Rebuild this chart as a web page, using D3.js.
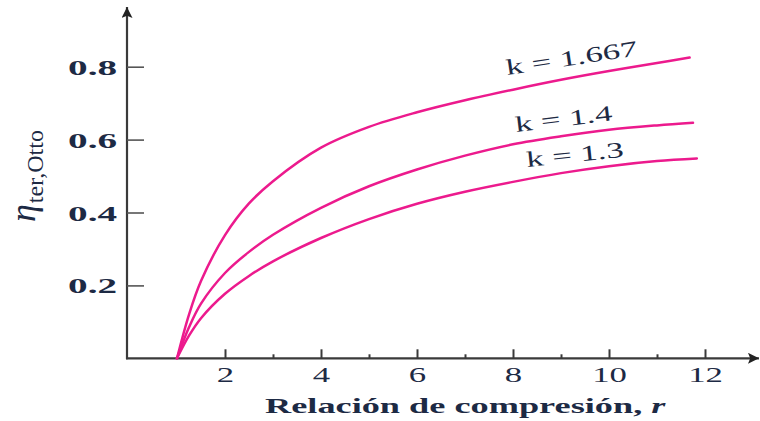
<!DOCTYPE html>
<html>
<head>
<meta charset="utf-8">
<script src="https://cdn.jsdelivr.net/npm/d3@7/dist/d3.min.js"></script>
<style>
  html, body { margin: 0; padding: 0; background: #fff; }
  svg { display: block; }
  text { font-family: "Liberation Serif", "Times New Roman", serif; fill: #1d2a44; }
</style>
</head>
<body>
<svg id="chart" width="760" height="421"></svg>
<script>
// Compression ratios sampled along each curve
const compressionRatios = [1, 1.25, 1.5, 2, 2.5, 3, 4, 5, 6, 7, 8, 9, 10, 11];
// Last sample of each curve (curves end at slightly different r)
const endRatios = [11.68, 11.75, 11.83];
// Specific-heat ratios of the three curves
const kValues = ["1.667", "1.4", "1.3"];
// Thermal efficiency of the Otto cycle, one array per k (last value = curve end)
const etaK1667 = [0, 0.12, 0.212, 0.338, 0.425, 0.486, 0.578, 0.635, 0.675, 0.708, 0.737, 0.764, 0.788, 0.81, 0.825];
const etaK14   = [0, 0.085, 0.15, 0.234, 0.292, 0.339, 0.413, 0.472, 0.518, 0.556, 0.587, 0.609, 0.627, 0.639, 0.646];
const etaK13   = [0, 0.062, 0.11, 0.177, 0.226, 0.266, 0.33, 0.382, 0.424, 0.457, 0.484, 0.508, 0.527, 0.541, 0.548];
const xTicks = [2, 4, 6, 8, 10, 12];
const xMinorTicks = [3, 5, 7, 9, 11];
const yTicks = [0.2, 0.4, 0.6, 0.8];
const xTitle = "Relación de compresión, ";

const svg = d3.select("#chart");
const x = d3.scaleLinear().domain([0, 12]).range([129, 705]);
const y = d3.scaleLinear().domain([0, 0.8]).range([358.3, 66.7]);

const axisColor = "#3a3a3a";
const curveColor = "#ec1a8d";

// arrowheads
const defs = svg.append("defs");
defs.append("marker").attr("id", "arrow")
  .attr("viewBox", "0 0 10 10").attr("refX", 10).attr("refY", 5)
  .attr("markerWidth", 16).attr("markerHeight", 11).attr("markerUnits", "userSpaceOnUse")
  .attr("orient", "auto")
  .append("path").attr("d", "M0,0 L10,5 L0,10 L2,5 Z").attr("fill", "#222");

// axis lines
svg.append("line").attr("x1", 126).attr("x2", 759).attr("y1", y(0)).attr("y2", y(0))
  .attr("stroke", axisColor).attr("stroke-width", 2.2).attr("marker-end", "url(#arrow)");
svg.append("line").attr("x1", 127).attr("x2", 127).attr("y1", y(0) + 1).attr("y2", 7)
  .attr("stroke", axisColor).attr("stroke-width", 2.2).attr("marker-end", "url(#arrow)");

// x axis: major ticks with labels
const xAxis = svg.append("g").attr("transform", `translate(0,${y(0)})`)
  .call(d3.axisBottom(x).tickValues(xTicks).tickSize(-9).tickFormat(d3.format("d")));
xAxis.select(".domain").remove();
xAxis.selectAll(".tick line").attr("stroke", axisColor).attr("stroke-width", 2);
xAxis.selectAll(".tick text")
  .attr("y", 0).attr("dy", 0)
  .attr("transform", "translate(0,24) scale(1.58,1)")
  .attr("fill", "#1d2a44")
  .style("font-size", "22px")
  .style("font-family", "'Liberation Serif', serif");

// x axis: minor ticks
const xMinor = svg.append("g").attr("transform", `translate(0,${y(0)})`)
  .call(d3.axisBottom(x).tickValues(xMinorTicks).tickSize(-4).tickFormat(""));
xMinor.select(".domain").remove();
xMinor.selectAll(".tick line").attr("stroke", axisColor).attr("stroke-width", 2);

// y axis
const yAxis = svg.append("g").attr("transform", "translate(127,0)")
  .call(d3.axisLeft(y).tickValues(yTicks).tickSize(-17).tickFormat(d3.format(".1f")));
yAxis.select(".domain").remove();
yAxis.selectAll(".tick line").attr("stroke", "#555").attr("stroke-width", 1.6);
yAxis.selectAll(".tick text")
  .attr("x", 0).attr("dy", 0)
  .attr("transform", "translate(-10,7.5) scale(1.78,1)")
  .attr("text-anchor", "end")
  .attr("fill", "#1d2a44")
  .style("font-size", "22px")
  .style("font-weight", "bold")
  .style("font-family", "'Liberation Serif', serif");

// efficiency curves
const series = [etaK1667, etaK14, etaK13];
const line = d3.line()
  .x(d => x(d[0]))
  .y(d => y(d[1]))
  .curve(d3.curveCatmullRom.alpha(0.5));
series.forEach((vals, i) => {
  const rs = compressionRatios.concat([endRatios[i]]);
  const pts = vals.map((v, j) => [rs[j], v]);
  svg.append("path").datum(pts)
    .attr("d", line)
    .attr("fill", "none")
    .attr("stroke", curveColor)
    .attr("stroke-width", 2.5)
    .attr("stroke-linecap", "round");
});

// curve labels
const labelPos = [
  { x: 507, y: 75, a: -8.5 },
  { x: 516, y: 132, a: -7 },
  { x: 527, y: 167, a: -6 }
];
kValues.forEach((k, i) => {
  const p = labelPos[i];
  svg.append("text")
    .attr("transform", `translate(${p.x},${p.y}) rotate(${p.a}) scale(1.58,1)`)
    .style("font-size", "22px")
    .text(`k = ${k}`);
});

// x axis title
const xt = svg.append("text")
  .attr("transform", "translate(265,413) scale(1.65,1)")
  .style("font-size", "22px")
  .style("font-weight", "bold");
xt.append("tspan").text(xTitle);
xt.append("tspan").style("font-style", "italic").text("r");

// y axis title
const yt = svg.append("text")
  .attr("transform", "translate(35,222) rotate(-90)");
yt.append("tspan").style("font-style", "italic").style("font-size", "36px").text("η");
yt.append("tspan").attr("dy", 8).attr("dx", 1).style("font-size", "24px").text("ter,Otto");
</script>
</body>
</html>
